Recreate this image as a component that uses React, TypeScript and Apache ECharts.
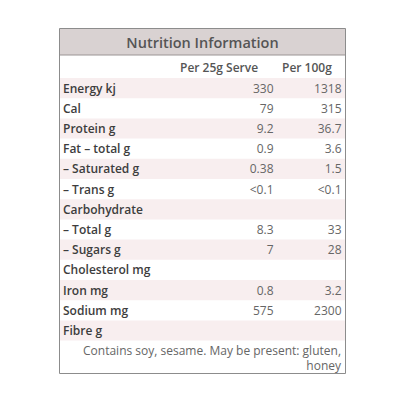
import React, { useEffect, useRef } from "react";
import * as echarts from "echarts";

const title = "Nutrition Information";
const columnHeaders = ["Per 25g Serve", "Per 100g"];
const categories = [
  "Energy kj",
  "Cal",
  "Protein g",
  "Fat – total g",
  "– Saturated g",
  "– Trans g",
  "Carbohydrate",
  "– Total g",
  "– Sugars g",
  "Cholesterol mg",
  "Iron mg",
  "Sodium mg",
  "Fibre g",
];
const perServe = ["330", "79", "9.2", "0.9", "0.38", "<0.1", "", "8.3", "7", "", "0.8", "575", ""];
const per100g = ["1318", "315", "36.7", "3.6", "1.5", "<0.1", "", "33", "28", "", "3.2", "2300", ""];
const footnoteLines = ["Contains soy, sesame. May be present: gluten,", "honey"];

const FONT = "'Open Sans', 'Noto Sans', sans-serif";

export default function App() {
  const ref = useRef<HTMLDivElement>(null);
  useEffect(() => {
    if (!ref.current) return;
    const chart = echarts.init(ref.current, undefined, { renderer: "svg" });
    const L = 59.5, R = 345.5, T = 28.5, B = 373.5;
    const option: any = {
      animation: false,
      backgroundColor: "#ffffff",
      grid: { left: 60, right: 416 - 345, top: 78, height: 13 * 20.2 },
      xAxis: { type: "value", min: 0, max: 1, show: false },
      yAxis: { type: "category", data: categories, inverse: true, show: false },
      series: [
        {
          type: "custom",
          data: categories.map((c, i) => [0, c, perServe[i], per100g[i], i]),
          encode: { x: 0, y: 1 },
          renderItem: (params: any, api: any) => {
            const idx = api.value(4);
            const cs = params.coordSys;
            const center = api.coord([0, idx]);
            const h = api.size([0, 1])[1];
            const cy = center[1];
            const x0 = cs.x;
            const w = cs.width;
            const children: any[] = [];
            if (idx % 2 === 0) {
              children.push({
                type: "rect",
                shape: { x: x0, y: cy - h / 2, width: w, height: h },
                style: { fill: "#f8eeef" },
              });
            }
            children.push({
              type: "text",
              style: {
                x: x0 + 3, y: cy, text: categories[idx], align: "left", verticalAlign: "middle",
                fontFamily: FONT, fontSize: 12, fontWeight: 600, fill: "#3d3d3d",
              },
            });
            children.push({
              type: "text",
              style: {
                x: x0 + 213.5, y: cy, text: perServe[idx], align: "right", verticalAlign: "middle",
                fontFamily: FONT, fontSize: 12, fontWeight: 400, fill: "#666666",
              },
            });
            children.push({
              type: "text",
              style: {
                x: x0 + 281.5, y: cy, text: per100g[idx], align: "right", verticalAlign: "middle",
                fontFamily: FONT, fontSize: 12, fontWeight: 400, fill: "#666666",
              },
            });
            return { type: "group", children };
          },
        },
      ],
      graphic: [
        {
          type: "rect",
          shape: { x: L, y: T, width: R - L, height: 55 - T },
          style: { fill: "#d9d2d2" },
          z: -1,
        },
        {
          type: "line",
          shape: { x1: L, y1: 55, x2: R, y2: 55 },
          style: { stroke: "#9a9494", lineWidth: 1 },
        },
        {
          type: "text",
          style: {
            x: (L + R) / 2, y: 42, text: title, align: "center", verticalAlign: "middle",
            fontFamily: FONT, fontSize: 14.5, fontWeight: 600, fill: "#555555",
          },
        },
        {
          type: "text",
          style: {
            x: 180, y: 67, text: columnHeaders[0], align: "left", verticalAlign: "middle",
            fontFamily: FONT, fontSize: 12, fontWeight: 600, fill: "#555555",
          },
        },
        {
          type: "text",
          style: {
            x: 282, y: 67, text: columnHeaders[1], align: "left", verticalAlign: "middle",
            fontFamily: FONT, fontSize: 12, fontWeight: 600, fill: "#555555",
          },
        },
        ...footnoteLines.map((line, i) => ({
          type: "text",
          style: {
            x: 341, y: 350 + i * 15.5, text: line, align: "right", verticalAlign: "middle",
            fontFamily: FONT, fontSize: 12, fontWeight: 400, fill: "#666666",
          },
        })),
        {
          type: "rect",
          shape: { x: L, y: T, width: R - L, height: B - T },
          style: { fill: "none", stroke: "#8c8c8c", lineWidth: 1 },
          z: 10,
        },
      ],
    };
    chart.setOption(option);
    return () => chart.dispose();
  }, []);
  return (
    <div
      ref={ref}
      style={{ position: "fixed", left: 0, top: 0, width: 416, height: 415 }}
    />
  );
}
